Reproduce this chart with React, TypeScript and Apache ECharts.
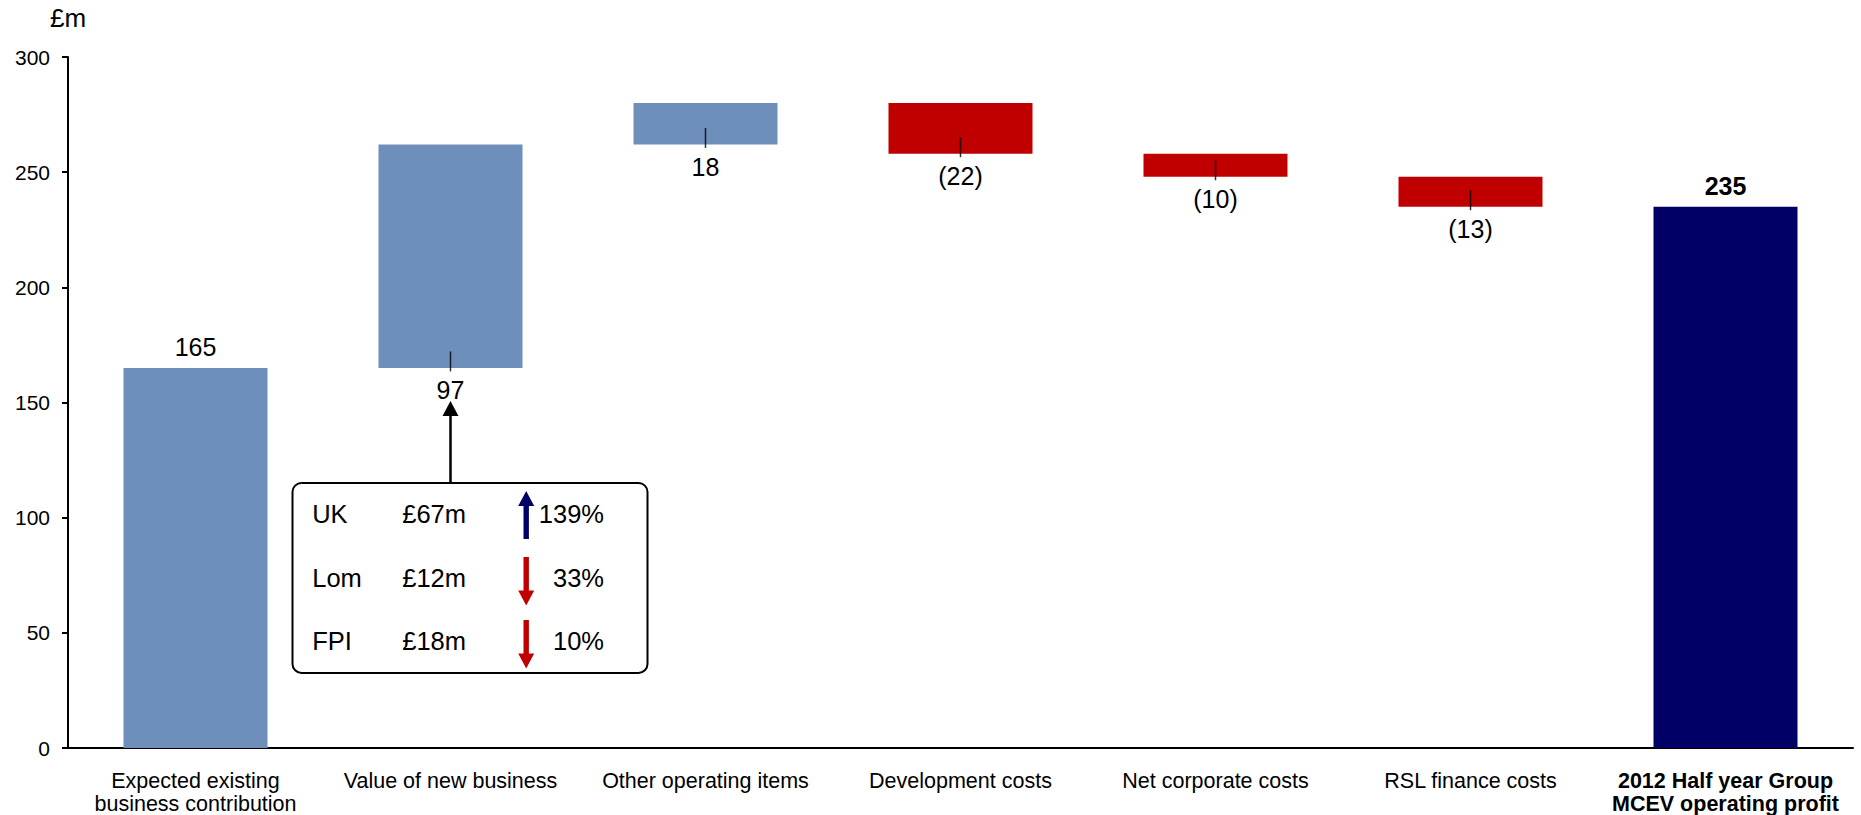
import React, { useEffect, useRef } from "react";
import * as echarts from "echarts";

// ---------------- data ----------------
const categories = [
  "Expected existing\nbusiness contribution",
  "Value of new business",
  "Other operating items",
  "Development costs",
  "Net corporate costs",
  "RSL finance costs",
  "2012 Half year Group\nMCEV operating profit",
];
const changes = [165, 97, 18, -22, -10, -13, 235];
const isTotal = [true, false, false, false, false, false, true];
const boldCategory = [false, false, false, false, false, false, true];
const yMin = 0;
const yMax = 300;
const yInterval = 50;
const yUnit = "£m";

const boxRegions = ["UK", "Lom", "FPI"];
const boxAmounts = ["£67m", "£12m", "£18m"];
const boxChanges = ["139%", "33%", "10%"];
const boxDirections = ["up", "down", "down"];

const FONT = "'Liberation Sans', Arial, Helvetica, sans-serif";
const COLOR_UP = "#6F8FBB";
const COLOR_DOWN = "#C00000";
const COLOR_TOTAL = "#000066";
const COLOR_ARROW_UP = "#000066";

function buildWaterfall() {
  const bases: number[] = [];
  const heights: number[] = [];
  let running = 0;
  changes.forEach((v, i) => {
    if (isTotal[i]) {
      bases.push(0);
      heights.push(v);
      running = v;
    } else if (v >= 0) {
      bases.push(running);
      heights.push(v);
      running += v;
    } else {
      running += v;
      bases.push(running);
      heights.push(-v);
    }
  });
  return { bases, heights };
}

export default function App() {
  const ref = useRef<HTMLDivElement>(null);

  useEffect(() => {
    if (!ref.current) return;
    const chart = echarts.init(ref.current, undefined, { renderer: "svg" });
    const { bases, heights } = buildWaterfall();

    const valueData = heights.map((h, i) => {
      const v = changes[i];
      const total = isTotal[i];
      const color = total ? (i === 0 ? COLOR_UP : COLOR_TOTAL) : v >= 0 ? COLOR_UP : COLOR_DOWN;
      return {
        value: h,
        itemStyle: { color },
        label: {
          show: true,
          position: total ? "top" : "bottom",
          distance: total ? 8 : 10,
          fontSize: 25,
          fontWeight: boldCategory[i] ? "bold" : "normal",
          color: "#000",
          fontFamily: FONT,
          formatter: () => (v < 0 ? `(${-v})` : `${v}`),
        },
      };
    });

    const tickData = changes
      .map((_, i) => (isTotal[i] ? null : [i, bases[i]]))
      .filter((d) => d !== null);

    chart.setOption({
      animation: false,
      textStyle: { fontFamily: FONT },
      grid: { left: 68, right: 8, top: 57, bottom: 67, containLabel: false },
      xAxis: {
        type: "category",
        data: categories.map((c, i) => ({
          value: c,
          textStyle: { fontWeight: boldCategory[i] ? "bold" : "normal" },
        })),
        axisLine: { show: true, lineStyle: { color: "#000", width: 2 } },
        axisTick: { show: false },
        axisLabel: {
          interval: 0,
          margin: 21,
          fontSize: 21.5,
          lineHeight: 23,
          color: "#000",
          fontFamily: FONT,
        },
        splitLine: { show: false },
      },
      yAxis: {
        type: "value",
        min: yMin,
        max: yMax,
        interval: yInterval,
        name: yUnit,
        nameLocation: "end",
        nameGap: 39,
        nameTextStyle: {
          fontSize: 26,
          color: "#000",
          align: "center",
          verticalAlign: "middle",
          fontFamily: FONT,
        },
        axisLine: { show: true, lineStyle: { color: "#000", width: 2 } },
        axisTick: { show: true, length: 6, lineStyle: { color: "#000", width: 2 } },
        axisLabel: { margin: 18, fontSize: 21, color: "#000", fontFamily: FONT },
        splitLine: { show: false },
      },
      series: [
        {
          name: "base",
          type: "bar",
          stack: "w",
          barWidth: 144,
          silent: true,
          itemStyle: { color: "transparent" },
          data: bases,
        },
        {
          name: "value",
          type: "bar",
          stack: "w",
          barWidth: 144,
          data: valueData,
        },
        {
          name: "ticks",
          type: "scatter",
          symbol: "rect",
          symbolSize: [1.5, 20],
          symbolOffset: [0, -6.5],
          itemStyle: { color: "#000" },
          z: 5,
          silent: true,
          data: tickData,
        },
      ],
    });

    // annotation box anchored to the "Value of new business" bar
    const p = chart.convertToPixel({ xAxisIndex: 0, yAxisIndex: 0 }, [1, bases[1]]) as number[];
    const ax = p[0];
    const barBottom = p[1];
    const tipY = barBottom + 33;
    const boxLeft = ax - 158;
    const boxTop = barBottom + 115;
    const boxW = 355;
    const boxH = 190;
    const rowY = [31.5, 95, 158];

    const elements: any[] = [];
    elements.push({
      type: "rect",
      shape: { x: boxLeft, y: boxTop, width: boxW, height: boxH, r: 9 },
      style: { fill: "#fff", stroke: "#000", lineWidth: 2 },
      z: 10,
    });
    elements.push({
      type: "line",
      shape: { x1: ax, y1: boxTop, x2: ax, y2: tipY + 14 },
      style: { stroke: "#000", lineWidth: 2.5 },
      z: 10,
    });
    elements.push({
      type: "polygon",
      shape: { points: [[ax, tipY], [ax - 8, tipY + 15], [ax + 8, tipY + 15]] },
      style: { fill: "#000" },
      z: 10,
    });
    boxRegions.forEach((r, i) => {
      const cy = boxTop + rowY[i];
      const txt = (t: string, x: number, align: string) => ({
        type: "text",
        x,
        y: cy,
        z: 11,
        style: {
          text: t,
          fontSize: 25.5,
          fontFamily: FONT,
          fill: "#000",
          align,
          verticalAlign: "middle",
        },
      });
      elements.push(txt(r, boxLeft + 19.7, "left"));
      elements.push(txt(boxAmounts[i], boxLeft + 109.7, "left"));
      elements.push(txt(boxChanges[i], boxLeft + 311.5, "right"));
      const cx = boxLeft + 233.7;
      const sw = 2.7;
      const hw = 8;
      const hl = 15;
      let pts: number[][];
      let color: string;
      if (boxDirections[i] === "up") {
        const tip = cy - 23.5;
        const bot = cy + 24.5;
        pts = [
          [cx - sw, bot], [cx - sw, tip + hl], [cx - hw, tip + hl], [cx, tip],
          [cx + hw, tip + hl], [cx + sw, tip + hl], [cx + sw, bot],
        ];
        color = COLOR_ARROW_UP;
      } else {
        const top = cy - 21;
        const tip = cy + 27.5;
        pts = [
          [cx - sw, top], [cx - sw, tip - hl], [cx - hw, tip - hl], [cx, tip],
          [cx + hw, tip - hl], [cx + sw, tip - hl], [cx + sw, top],
        ];
        color = COLOR_DOWN;
      }
      elements.push({ type: "polygon", shape: { points: pts }, style: { fill: color }, z: 11 });
    });

    chart.setOption({ graphic: { elements } });

    return () => chart.dispose();
  }, []);

  return (
    <div
      ref={ref}
      style={{ position: "fixed", left: 0, top: 0, width: 1861, height: 815, background: "#fff" }}
    />
  );
}
